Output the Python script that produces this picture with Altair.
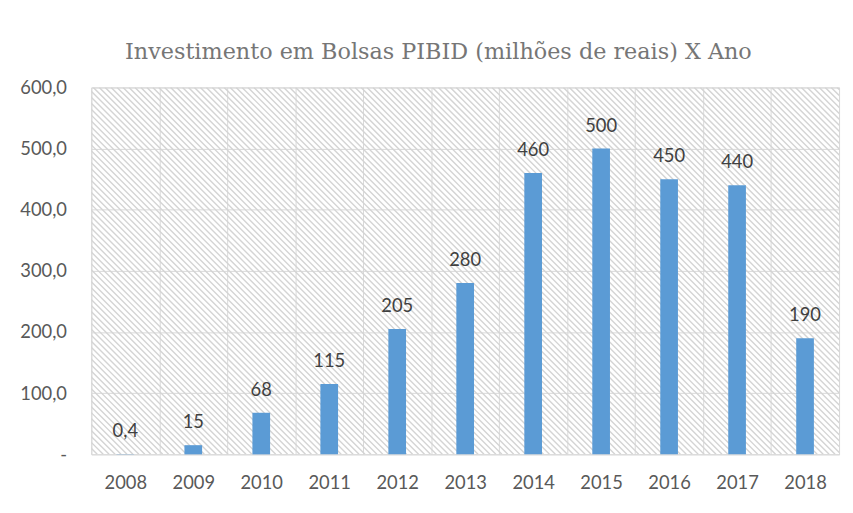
import altair as alt
import pandas as pd

# ---- data ----
years = ["2008", "2009", "2010", "2011", "2012", "2013", "2014", "2015", "2016", "2017", "2018"]
values = [0.4, 15, 68, 115, 205, 280, 460, 500, 450, 440, 190]
value_labels = ["0,4", "15", "68", "115", "205", "280", "460", "500", "450", "440", "190"]
y_ticks = [0, 100, 200, 300, 400, 500, 600]
title_text = "Investimento em Bolsas PIBID (milhões de reais) X Ano"

df = pd.DataFrame({"year": years, "value": values, "label": value_labels})

# ---- layout / style ----
W, H = 754, 370
PAD = {"left": 84, "top": 78, "right": 6, "bottom": 49}
FONT = "Lato"
FS = 18.5
TXT = "#595959"
GRID = "#d9d9d9"
BAR = "#5b9bd5"
HATCH = "#d4d4d4"
HATCH_STEP = 6  # px between diagonal hatch lines (background decoration)
SERIF = "DejaVu Serif"

x_axis = alt.Axis(
    title=None, labelAngle=0, ticks=False, tickSize=0, domain=False, grid=True,
    tickBand="extent", gridColor=GRID, gridWidth=1, labelPadding=19,
    labelFont=FONT, labelFontSize=FS, labelColor=TXT, labelBaseline="top",
)
y_enc = alt.Y(
    "value:Q",
    scale=alt.Scale(domain=[0, 600], nice=False),
    axis=alt.Axis(
        title=None, values=y_ticks, ticks=False, tickSize=0, domain=False, grid=True,
        gridColor=GRID, gridWidth=1, labelPadding=25,
        labelFont=FONT, labelFontSize=FS, labelColor=TXT,
        labelExpr="datum.value == 0 ? '-\u00a0\u00a0' : replace(format(datum.value, '.1f'), '.', ',')",
    ),
)

# diagonal hatch of the plot background (decoration, clipped to the plot)
hatch = (
    alt.Chart(alt.sequence(-H, W + HATCH_STEP, HATCH_STEP, as_="s"))
    .transform_calculate(s2=f"datum.s + {H}")
    .mark_rule(color=HATCH, strokeWidth=1.4, clip=True)
    .encode(
        x=alt.X("s:Q", scale=None, axis=None),
        x2="s2:Q",
        y=alt.value(0),
        y2=alt.value("height"),
    )
)

bars = alt.Chart(df).mark_bar(color=BAR, width=alt.RelativeBandSize(0.26)).encode(
    x=alt.X("year:O", sort=years, scale=alt.Scale(paddingInner=0, paddingOuter=0), axis=x_axis),
    y=y_enc,
)

texts = alt.Chart(df).mark_text(
    dy=-17, baseline="alphabetic", font=FONT, fontSize=FS, color="#404040"
).encode(
    x=alt.X("year:O", sort=years, scale=alt.Scale(paddingInner=0, paddingOuter=0), axis=None),
    y=alt.Y("value:Q"),
    text="label:N",
)

chart = (
    alt.layer(hatch, bars, texts)
    .resolve_scale(x="independent")
    .properties(
        width=W,
        height=H,
        padding=PAD,
        autosize=alt.AutoSizeParams(type="none"),
        title=alt.TitleParams(
            title_text, font=SERIF, fontSize=22.5,
            fontWeight="normal", color="#767676", anchor="middle", baseline="alphabetic",
            offset=18, dy=21, dx=-27,
        ),
    )
    .configure_view(stroke=GRID, strokeWidth=1)
)

chart.save("out.html", embed_options={"renderer": "svg", "actions": False})
